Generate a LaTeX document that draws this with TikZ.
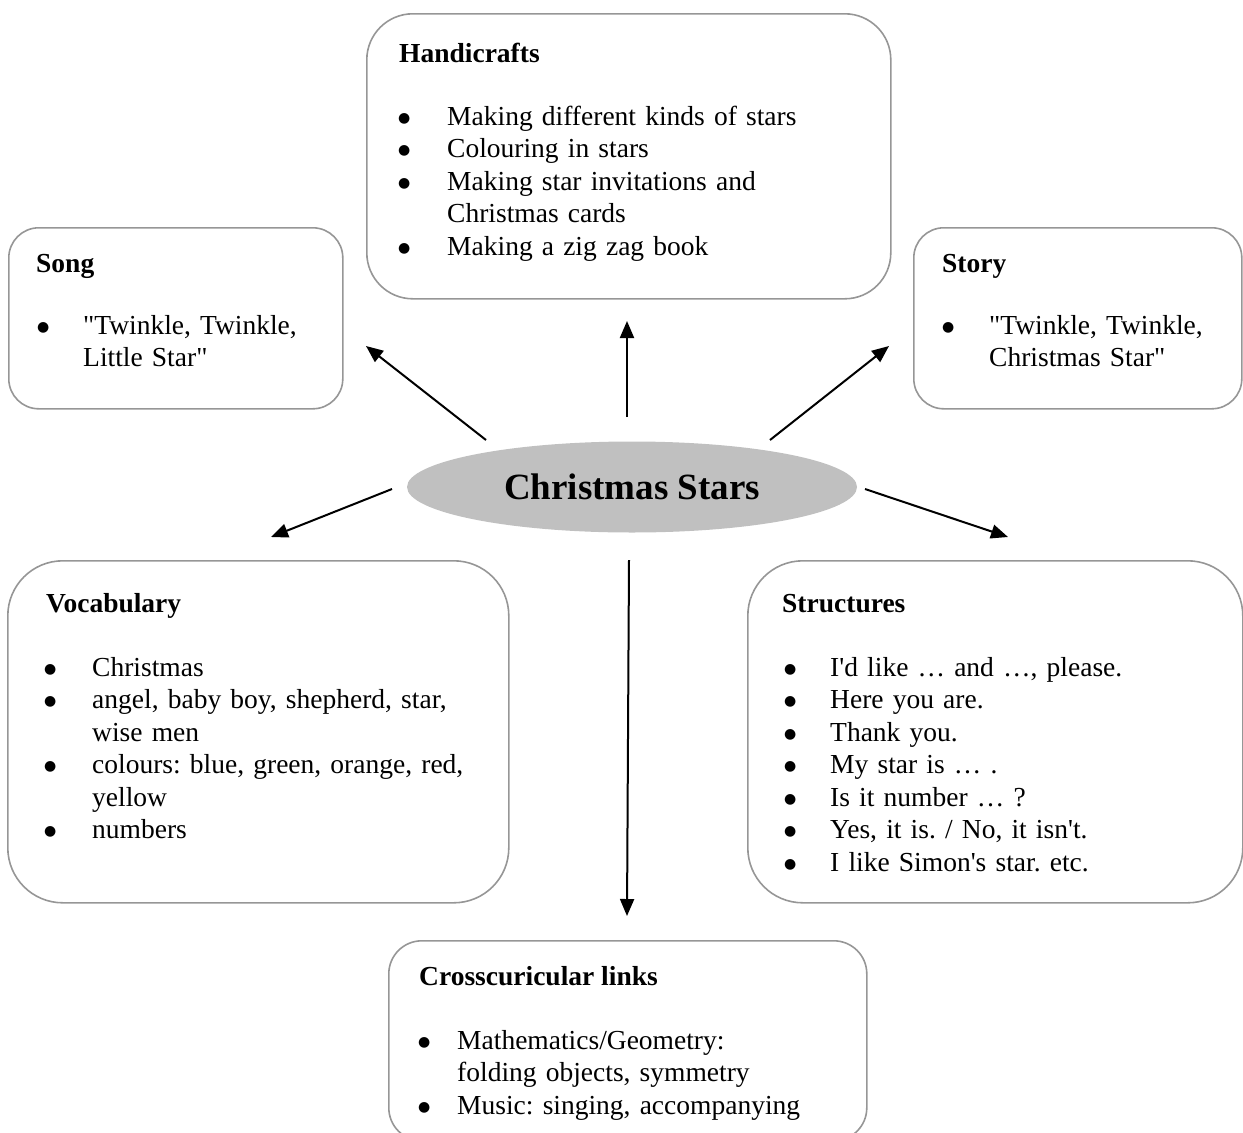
\documentclass[tikz,border=0pt]{standalone}
\usepackage{fontspec}
\setmainfont{Liberation Serif}
\newfontfamily\tnr{Liberation Serif}
\newfontfamily\djv{DejaVu Sans}
\usetikzlibrary{arrows.meta,shapes.geometric}
\definecolor{boxgray}{RGB}{150,150,150}
\definecolor{ellgray}{RGB}{192,192,192}
\newcommand\bdot{\raisebox{3pt}{\djv\fontsize{14}{14}\selectfont ●}}
\newcommand\bl[2]{\makebox[#1][l]{\bdot}#2}
\newcommand\cl[2]{\hspace*{#1}#2}
\tikzset{
  box/.style={draw=boxgray, line width=1.6pt, anchor=north west, inner sep=0pt},
  ttl/.style={anchor=base west, inner sep=0pt, font=\tnr\fontsize{27.5}{32.5}\selectfont\bfseries\frenchspacing},
  items/.style={anchor=base west, inner sep=0pt, align=left, text width=600pt,
                font=\tnr\fontsize{27.5}{32.5}\selectfont\frenchspacing},
  arr/.style={line width=2pt, -{Triangle[length=17pt,width=14pt]}},
}
\begin{document}
\begin{tikzpicture}[x=1pt,y=-1pt]
\useasboundingbox (0,0) rectangle (1243,1133);
\clip (0,0) rectangle (1243,1133);

% central ellipse
\node[ellipse, fill=ellgray, minimum width=450pt, minimum height=91pt, inner sep=0pt,
      font=\tnr\fontsize{37}{40}\selectfont\bfseries] (center) at (632,487) {Christmas Stars};

% Handicrafts
\node[box, rounded corners=46pt, minimum width=524pt, minimum height=285pt] (hand) at (366,13) {};
\node[ttl] (handT) at (399,62) {Handicrafts};
\node[items] (handL) at (398,125) {\bl{49pt}{Making different kinds of stars}\\
  \bl{49pt}{Colouring in stars}\\
  \bl{49pt}{Making star invitations and}\\
  \cl{49pt}{Christmas cards}\\
  \bl{49pt}{Making a zig zag book}};

% Song
\node[box, rounded corners=30pt, minimum width=334pt, minimum height=181pt] (song) at (8,227) {};
\node[ttl] (songT) at (36,272) {Song};
\node[items] (songL) at (37,334) {\bl{46pt}{"Twinkle, Twinkle,}\\
  \cl{46pt}{Little Star"}};

% Story
\node[box, rounded corners=30pt, minimum width=328pt, minimum height=181pt] (story) at (913,227) {};
\node[ttl] (storyT) at (942,272) {Story};
\node[items] (storyL) at (942,334) {\bl{47pt}{"Twinkle, Twinkle,}\\
  \cl{47pt}{Christmas Star"}};

% Vocabulary
\node[box, rounded corners=55pt, minimum width=501pt, minimum height=342pt] (vocab) at (7,560) {};
\node[ttl] (vocabT) at (46,612) {Vocabulary};
\node[items] (vocabL) at (44,676) {\bl{48pt}{Christmas}\\
  \bl{48pt}{angel, baby boy, shepherd, star,}\\
  \cl{48pt}{wise men}\\
  \bl{48pt}{colours: blue, green, orange, red,}\\
  \cl{48pt}{yellow}\\
  \bl{48pt}{numbers}};

% Structures
\node[box, rounded corners=55pt, minimum width=495pt, minimum height=342pt] (struct) at (747,560) {};
\node[ttl] (structT) at (782,612) {Structures};
\node[items] (structL) at (784,676) {\bl{46pt}{I'd like … and …, please.}\\
  \bl{46pt}{Here you are.}\\
  \bl{46pt}{Thank you.}\\
  \bl{46pt}{My star is … .}\\
  \bl{46pt}{Is it number … ?}\\
  \bl{46pt}{Yes, it is. / No, it isn't.}\\
  \bl{46pt}{I like Simon's star. etc.}};

% Crosscurricular
\node[box, rounded corners=33pt, minimum width=478pt, minimum height=200pt] (cross) at (388,940) {};
\node[ttl] (crossT) at (419,985) {Crosscuricular links};
\node[items] (crossL) at (418,1049) {\bl{39pt}{Mathematics/Geometry:}\\
  \cl{39pt}{folding objects, symmetry}\\
  \bl{39pt}{Music: singing, accompanying}};

% arrow end points
\coordinate (aSong0) at (486,440);  \coordinate (aSong1) at (366,346);
\coordinate (aHand0) at (627,417);  \coordinate (aHand1) at (627,321);
\coordinate (aStory0) at (770,440); \coordinate (aStory1) at (889,346);
\coordinate (aVoc0) at (392,489);   \coordinate (aVoc1) at (271,537);
\coordinate (aStr0) at (865,489);   \coordinate (aStr1) at (1008,537);
\coordinate (aCr0) at (629,560);    \coordinate (aCr1) at (627,916);

\draw[arr] (aSong0) -- (aSong1);
\draw[arr] (aHand0) -- (aHand1);
\draw[arr] (aStory0) -- (aStory1);
\draw[arr] (aVoc0) -- (aVoc1);
\draw[arr] (aStr0) -- (aStr1);
\draw[arr] (aCr0) -- (aCr1);
\end{tikzpicture}
\end{document}
